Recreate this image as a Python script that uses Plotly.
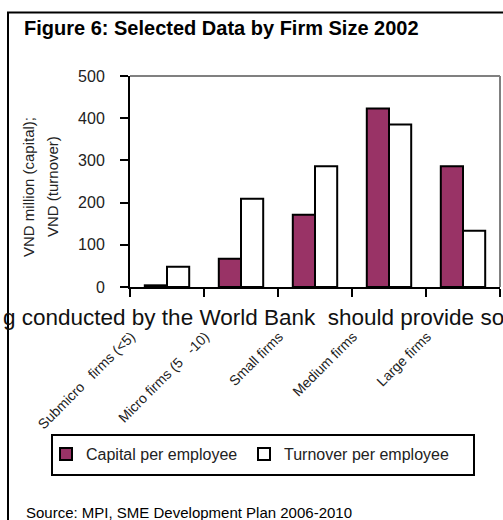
import plotly.graph_objects as go

# Firm-size categories and per-employee figures (2002)
categories = ["Submicro firms (<5)", "Micro firms (5-10)", "Small firms", "Medium firms", "Large firms"]
tick_labels = ["Submicro\u00a0\u00a0\u00a0firms (<5)", "Micro firms (5\u00a0\u00a0\u00a0-10)",
               "Small firms", "Medium firms", "Large firms"]
capital = [4, 67, 171, 423, 286]
turnover = [48, 209, 286, 385, 133]
y_title_lines = ["VND million (capital);", "VND (turnover)"]

W, H = 503, 520
L, R, T, B = 130, 3, 76, 233
PW, PH = W - L - R, H - T - B

def px(x):
    return (x - L) / PW

def py(y):
    return (H - B - y) / PH

ARIAL = "Liberation Sans, Arial, sans-serif"

fig = go.Figure()
fig.add_trace(go.Bar(
    x=categories, y=capital, name="Capital per employee", legend="legend",
    marker=dict(color="#993366", line=dict(color="black", width=2)),
))
fig.add_trace(go.Bar(
    x=categories, y=turnover, name="Turnover per employee", legend="legend2",
    marker=dict(color="white", line=dict(color="black", width=2)),
))

legend_common = dict(
    orientation="v", xref="container", yref="container",
    xanchor="left", yanchor="middle",
    borderwidth=0, bgcolor="rgba(0,0,0,0)",
    font=dict(family=ARIAL, size=16, color="#222"),
    itemwidth=30,
)

fig.update_layout(
    width=W, height=H,
    margin=dict(l=L, r=R, t=T, b=B, pad=0, autoexpand=False),
    paper_bgcolor="white", plot_bgcolor="white",
    barmode="group", bargap=0.4, bargroupgap=0,
    showlegend=True,
    legend=dict(legend_common, x=46 / W, y=1 - 454 / H),
    legend2=dict(legend_common, x=244 / W, y=1 - 454 / H),
    xaxis=dict(
        tickvals=categories, ticktext=tick_labels, automargin=False,
        tickangle=-45, tickson="boundaries", ticks="outside", ticklen=8,
        tickwidth=2, tickcolor="black",
        showline=True, linecolor="black", linewidth=2,
        showgrid=False, zeroline=False,
        tickfont=dict(family=ARIAL, size=14, color="#222"),
        ticklabelstandoff=34, ticklabelshift=-36,
    ),
    yaxis=dict(
        range=[0, 500], dtick=100, ticks="outside", ticklen=8, automargin=False,
        tickwidth=2, tickcolor="black",
        showline=True, linecolor="black", linewidth=2,
        showgrid=False, zeroline=False,
        tickfont=dict(family=ARIAL, size=16, color="#222"),
        ticklabelstandoff=12,
    ),
)

# Grey plot-area border on top and right
fig.add_shape(type="line", xref="paper", yref="paper", x0=0, x1=1, y0=1, y1=1,
              line=dict(color="#808080", width=2), layer="below")
fig.add_shape(type="line", xref="paper", yref="paper", x0=1, x1=1, y0=0, y1=1,
              line=dict(color="#808080", width=2), layer="below")

# Outer figure frame (left and top edges)
fig.add_shape(type="line", xref="paper", yref="paper", x0=px(8), x1=px(8), y0=py(12), y1=py(H + 5),
              line=dict(color="black", width=2))
fig.add_shape(type="line", xref="paper", yref="paper", x0=px(7), x1=px(W + 5), y0=py(12.5), y1=py(12.5),
              line=dict(color="black", width=2))

# Legend frame
fig.add_shape(type="rect", xref="paper", yref="paper", x0=px(52), x1=px(474), y0=py(435), y1=py(475),
              line=dict(color="black", width=2), fillcolor="rgba(0,0,0,0)")

# Two-line y-axis title
for line, xpos in zip(y_title_lines, [28, 52]):
    fig.add_annotation(text=line, textangle=-90, xref="paper", yref="paper",
                       x=px(xpos), y=py(187), xanchor="center", yanchor="middle",
                       showarrow=False, font=dict(family=ARIAL, size=15, color="#222"))

fig.add_annotation(text="<b>Figure 6: Selected Data by Firm Size 2002</b>",
                   xref="paper", yref="paper", x=px(22), y=py(28), xanchor="left", yanchor="middle",
                   showarrow=False, font=dict(family=ARIAL, size=20, color="black"))
fig.add_annotation(text="g conducted by the World Bank\u00a0\u00a0should provide so",
                   xref="paper", yref="paper", x=px(1), y=py(317), xanchor="left", yanchor="middle",
                   showarrow=False, font=dict(family=ARIAL, size=22.5, color="#111"))
fig.add_annotation(text="Source: MPI, SME Development Plan 2006-2010",
                   xref="paper", yref="paper", x=px(24), y=py(512), xanchor="left", yanchor="middle",
                   showarrow=False, font=dict(family=ARIAL, size=15, color="black"))

fig.write_html("out.html")
